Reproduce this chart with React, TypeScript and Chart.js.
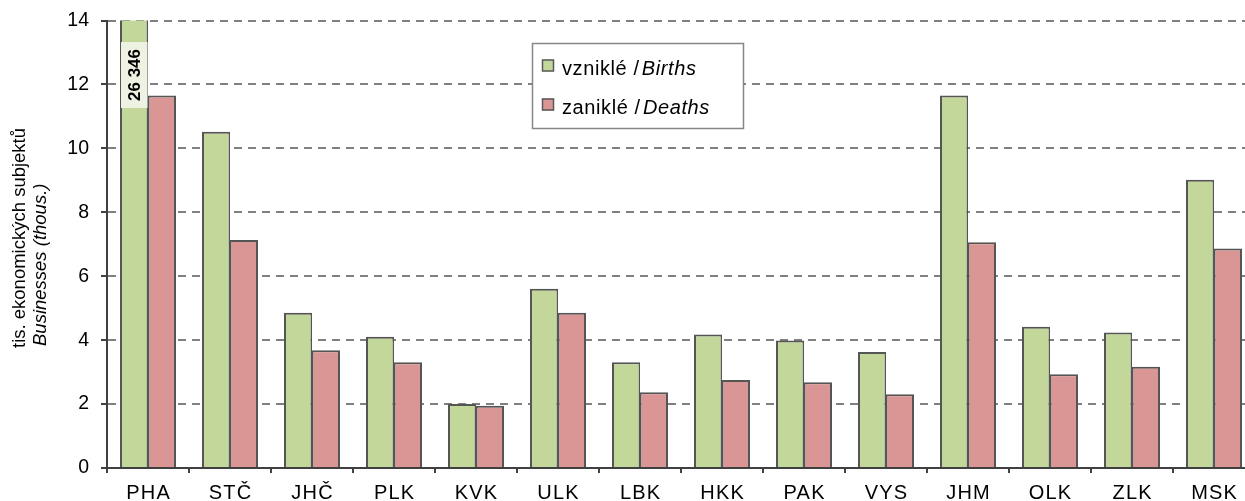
import { useEffect, useRef } from "react";
import { Chart, registerables } from "chart.js";

Chart.register(...registerables);

const categories = ["PHA", "STČ", "JHČ", "PLK", "KVK", "ULK", "LBK", "HKK", "PAK", "VYS", "JHM", "OLK", "ZLK", "MSK"];
const births = [26.346, 10.52, 4.86, 4.11, 2.0, 5.61, 3.31, 4.18, 3.99, 3.63, 11.65, 4.42, 4.24, 9.02];
const deaths = [11.65, 7.13, 3.68, 3.31, 1.95, 4.86, 2.37, 2.75, 2.68, 2.31, 7.06, 2.93, 3.17, 6.87];
const seriesCz = ["vzniklé", "zaniklé"];
const seriesEn = ["Births", "Deaths"];
const seriesColors = ["#c4d79b", "#d99694"];
const yTitleCz = "tis. ekonomických subjektů";
const yTitleEn = "Businesses (thous.)";
const yMin = 0;
const yMax = 14;
const yStep = 2;

const FONT = "'Liberation Sans', Arial, sans-serif";

function formatThousands(v: number): string {
  const n = Math.round(v * 1000).toString();
  return n.replace(/\B(?=(\d{3})+(?!\d))/g, " ");
}

const overlayPlugin = {
  id: "overlay",
  afterDatasetsDraw(chart: any) {
    const ctx = chart.ctx;
    const area = chart.chartArea;
    const meta = chart.getDatasetMeta(0);
    const ds = chart.data.datasets[0].data as number[];
    ds.forEach((v: number, i: number) => {
      if (v <= yMax) return;
      const el = meta.data[i];
      const { x, width } = el.getProps(["x", "width"], true);
      const bx = x - width / 2 + 1;
      const bw = width - 1.5;
      const by = area.top + 21.5;
      const bh = 66;
      ctx.save();
      ctx.fillStyle = "#eef2e2";
      ctx.fillRect(bx, by, bw, bh);
      ctx.translate(x + 0.5, by + bh / 2);
      ctx.rotate(-Math.PI / 2);
      ctx.fillStyle = "#000";
      ctx.font = `bold 17px ${FONT}`;
      ctx.textAlign = "center";
      ctx.textBaseline = "middle";
      ctx.fillText(formatThousands(v), 0, 1);
      ctx.restore();
    });
  },
  afterDraw(chart: any) {
    const ctx = chart.ctx;
    // x tick labels
    const xs = chart.scales.x;
    ctx.save();
    ctx.fillStyle = "#000";
    ctx.font = `20px ${FONT}`;
    (ctx as any).letterSpacing = "1.2px";
    ctx.textAlign = "center";
    ctx.textBaseline = "alphabetic";
    xs.ticks.forEach((t: any, i: number) => {
      const px = xs.getPixelForTick(i);
      ctx.fillText(String(xs.getLabelForValue(t.value)), px + 0.6, xs.top + 30.5);
    });
    ctx.restore();

    // legend
    ctx.save();
    ctx.fillStyle = "#fff";
    ctx.fillRect(532, 43, 212, 86);
    ctx.strokeStyle = "#868686";
    ctx.lineWidth = 1.5;
    ctx.strokeRect(532.5, 43.5, 211, 85);
    const rows = [75, 114];
    seriesCz.forEach((cz, i) => {
      const base = rows[i];
      ctx.fillStyle = seriesColors[i];
      ctx.fillRect(542, base - 15.5, 12, 12);
      ctx.strokeStyle = "#595959";
      ctx.lineWidth = 1.5;
      ctx.strokeRect(542.5, base - 15, 11, 11);
      ctx.fillStyle = "#000";
      ctx.textBaseline = "alphabetic";
      ctx.textAlign = "left";
      (ctx as any).letterSpacing = "0.6px";
      ctx.font = `20px ${FONT}`;
      const first = cz + " / ";
      ctx.fillText(first, 562, base);
      const w = ctx.measureText(first).width;
      ctx.font = `italic 20px ${FONT}`;
      ctx.fillText(seriesEn[i], 562 + w - 4, base);
    });
    (ctx as any).letterSpacing = "0px";
    // y axis title
    ctx.fillStyle = "#000";
    ctx.textAlign = "left";
    ctx.textBaseline = "alphabetic";
    ctx.save();
    ctx.translate(24.5, 348);
    ctx.rotate(-Math.PI / 2);
    ctx.font = `18.5px ${FONT}`;
    ctx.fillText(yTitleCz, 0, 0);
    ctx.restore();
    ctx.save();
    ctx.translate(46, 346);
    ctx.rotate(-Math.PI / 2);
    ctx.font = `italic 18.5px ${FONT}`;
    ctx.fillText(yTitleEn, 0, 0);
    ctx.restore();
    ctx.restore();
  },
};

export default function App() {
  const ref = useRef<HTMLCanvasElement | null>(null);
  useEffect(() => {
    if (!ref.current) return;
    Chart.defaults.font.family = FONT;
    const chart = new Chart(ref.current, {
      type: "bar",
      data: {
        labels: categories,
        datasets: [
          {
            label: seriesCz[0],
            data: births,
            backgroundColor: seriesColors[0],
            borderColor: "#555555",
            borderWidth: { left: 2, right: 1.5, top: 2, bottom: 0 },
            borderSkipped: "bottom",
          },
          {
            label: seriesCz[1],
            data: deaths,
            backgroundColor: seriesColors[1],
            borderColor: "#555555",
            borderWidth: { left: 1.5, right: 2, top: 2, bottom: 0 },
            borderSkipped: "bottom",
          },
        ],
      },
      options: {
        responsive: false,
        animation: false,
        devicePixelRatio: 1,
        layout: { padding: { top: 20.5, left: 0, right: 0, bottom: 0 } },
        datasets: {
          bar: { categoryPercentage: 0.683, barPercentage: 1 },
        },
        plugins: {
          legend: { display: false },
          tooltip: { enabled: false },
          title: { display: false },
        },
        scales: {
          x: {
            offset: true,
            grid: {
              display: true,
              drawOnChartArea: false,
              drawTicks: true,
              tickLength: 5,
              color: "#404040",
              lineWidth: 2,
              offset: true,
            },
            border: { display: true, color: "#404040", width: 2 },
            ticks: { display: false, autoSkip: false, maxRotation: 0 },
            afterFit: (s: any) => {
              s.height = 33;
              s.paddingLeft = 0;
              s.paddingRight = 0;
            },
          },
          y: {
            min: yMin,
            max: yMax,
            ticks: { stepSize: yStep, color: "#000", font: { size: 19.5 }, padding: 12 },
            grid: {
              color: (c: any) => (c.tick && c.tick.value === 0 ? "rgba(0,0,0,0)" : "#808080"),
              lineWidth: 2,
              tickLength: 6,
              tickColor: "#404040",
              drawTicks: true,
            },
            border: { display: true, color: "#404040", width: 2, dash: [8, 6] },
            afterFit: (s: any) => {
              s.width = 107;
              s.paddingTop = 0;
              s.paddingBottom = 0;
            },
          },
        },
      },
      plugins: [overlayPlugin],
    } as any);
    return () => chart.destroy();
  }, []);
  return (
    <div
      style={{
        position: "fixed",
        left: 0,
        top: 0,
        width: 1245,
        height: 501,
        overflow: "hidden",
        background: "#fff",
      }}
    >
      <canvas ref={ref} width={1255} height={501} style={{ display: "block", width: 1255, height: 501 }} />
    </div>
  );
}
